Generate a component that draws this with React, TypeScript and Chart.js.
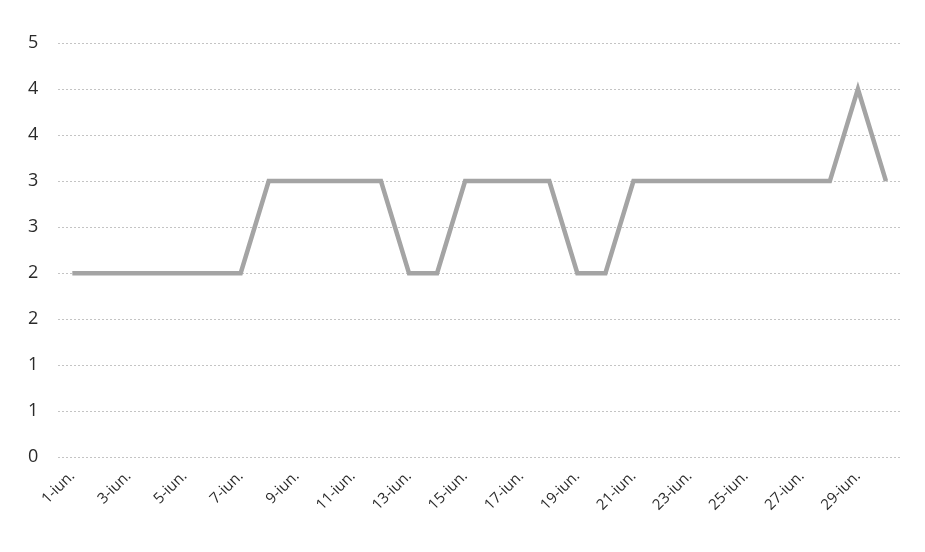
import React, { useEffect, useRef } from "react";
import { Chart, registerables } from "chart.js";

Chart.register(...registerables);

const categories: string[] = Array.from({ length: 30 }, (_, i) => `${i + 1}-iun.`);
const values: number[] = [
  2, 2, 2, 2, 2, 2, 2,
  3, 3, 3, 3, 3,
  2, 2,
  3, 3, 3, 3,
  2, 2,
  3, 3, 3, 3, 3, 3, 3, 3,
  4, 3,
];
const yMin = 0;
const yMax = 4.5;
const yStep = 0.5;

export default function App() {
  const ref = useRef<HTMLCanvasElement | null>(null);
  useEffect(() => {
    if (!ref.current) return;
    const chart = new Chart(ref.current, {
      type: "line",
      data: {
        labels: categories,
        datasets: [
          {
            data: values,
            borderColor: "#a4a4a4",
            borderWidth: 4.5,
            pointRadius: 0,
            tension: 0,
            fill: false,
            borderJoinStyle: "miter",
          },
        ],
      },
      options: {
        animation: false,
        responsive: true,
        maintainAspectRatio: false,
        layout: { padding: { left: 0, right: 17, top: 35, bottom: 20 } },
        plugins: { legend: { display: false }, tooltip: { enabled: false } },
        scales: {
          x: {
            offset: true,
            grid: { display: false, drawTicks: false },
            border: { display: false },
            ticks: {
              autoSkip: false,
              maxRotation: 45,
              minRotation: 45,
              padding: 10,
              color: "#2a2a2a",
              font: { family: "Open Sans", size: 15 },
              callback: (_v: any, i: number) => (i % 2 === 0 ? categories[i] : ""),
            },
          },
          y: {
            min: yMin,
            max: yMax,
            grid: {
              color: "#c4c4c4",
              lineWidth: 1,
              drawTicks: false,
            },
            border: { display: false, dash: [2, 2] },
            ticks: {
              stepSize: yStep,
              padding: 20,
              color: "#2a2a2a",
              font: { family: "Open Sans", size: 18 },
              callback: (v: any) => String(Math.round(Number(v))),
            },
          },
        },
      },
    });
    return () => chart.destroy();
  }, []);
  return (
    <div style={{ width: 909, height: 536, position: "relative" }}>
      <canvas ref={ref} />
    </div>
  );
}
